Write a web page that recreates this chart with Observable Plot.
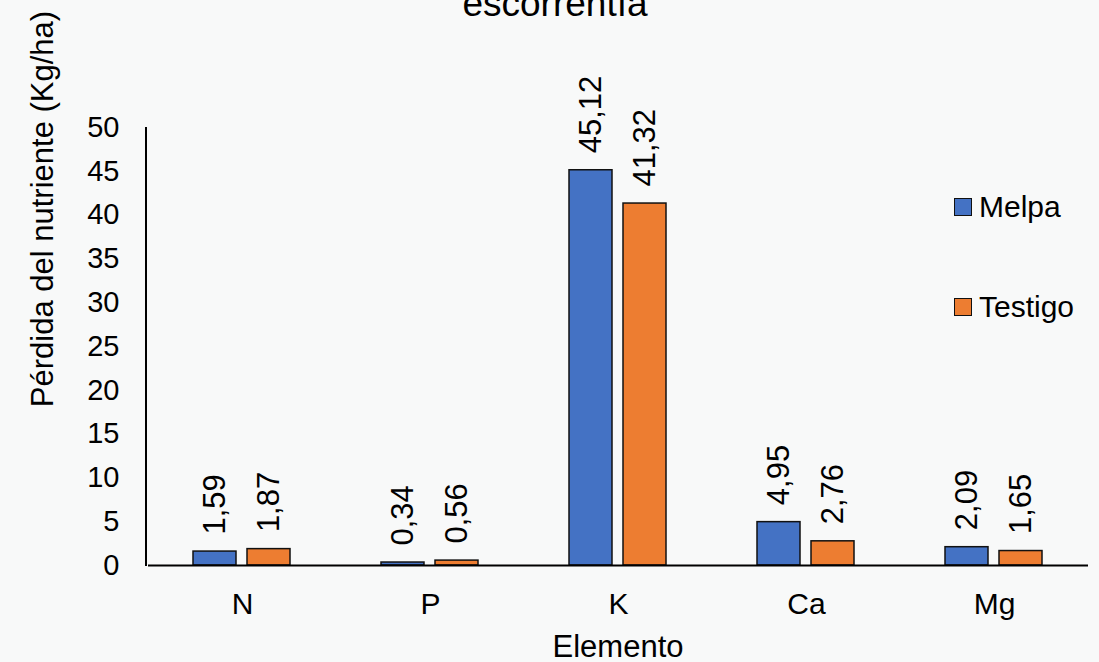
<!DOCTYPE html>
<html>
<head>
<meta charset="utf-8">
<script src="https://cdn.jsdelivr.net/npm/d3@7"></script>
<script src="https://cdn.jsdelivr.net/npm/@observablehq/plot@0.6"></script>
<style>
  html, body { margin: 0; padding: 0; background: #f8f9f9; }
  body { width: 1099px; height: 662px; position: relative; overflow: hidden;
         font-family: "Liberation Sans", Arial, sans-serif; color: #000; }
  .abs { position: absolute; white-space: nowrap; line-height: 1; }
  .sw { position: absolute; width: 18px; height: 18px; box-sizing: border-box; border: 1.5px solid #111; }
</style>
</head>
<body>
<div id="chart"></div>
<div class="abs" id="title" style="left:555px; top:-15px; font-size:37px; transform:translateX(-50%);">escorrentía</div>
<div class="abs" id="xlab" style="left:618px; top:631px; font-size:31px; transform:translateX(-50%);">Elemento</div>
<div class="abs" id="ylab" style="left:42px; top:209px; font-size:31px; transform:translate(-50%,-50%) rotate(-90deg);">Pérdida del nutriente (Kg/ha)</div>
<div id="legend"></div>
<script>
const elementos = ["N", "P", "K", "Ca", "Mg"];
const series = ["Melpa", "Testigo"];
const melpa = [1.59, 0.34, 45.12, 4.95, 2.09];
const testigo = [1.87, 0.56, 41.32, 2.76, 1.65];
const yTicks = [0, 5, 10, 15, 20, 25, 30, 35, 40, 45, 50];
const colores = ["#4472C4", "#ED7D31"];

const data = elementos.flatMap((e, i) => [
  {elemento: e, serie: "Melpa", valor: melpa[i]},
  {elemento: e, serie: "Testigo", valor: testigo[i]}
]);
const fmt = v => d3.format(".2f")(v).replace(".", ",");

const plot = Plot.plot({
  width: 1099,
  height: 662,
  marginTop: 127,
  marginBottom: 97,
  marginLeft: 146,
  marginRight: 9,
  style: {background: "transparent", fontFamily: "'Liberation Sans', Arial, sans-serif", fontSize: "30px", color: "#000"},
  fx: {domain: elementos, padding: 0, label: null},
  x: {domain: series, paddingInner: 0.2, paddingOuter: 0.82, axis: null},
  y: {domain: [0, 50]},
  color: {domain: series, range: colores},
  marks: [
    Plot.axisY({ticks: yTicks, tickSize: 0, tickPadding: 29, label: null, fontSize: 29}),
    Plot.axisFx({anchor: "bottom", tickSize: 0, tickPadding: 27, label: null, fontSize: 30}),
    Plot.barY(data, {fx: "elemento", x: "serie", y: "valor", fill: "serie", stroke: "#111", strokeWidth: 1.5}),
    Plot.ruleY([0], {stroke: "#000", strokeWidth: 2}),
    Plot.text(data, {fx: "elemento", x: "serie", y: "valor", text: d => fmt(d.valor),
      rotate: -90, textAnchor: "start", dy: -17, fontSize: 31, fill: "#000"})
  ]
});
document.getElementById("chart").appendChild(plot);

// left axis line drawn from the plot's own y scale
const ys = plot.scale("y");
d3.select(plot).append("line")
  .attr("x1", 146).attr("x2", 146)
  .attr("y1", ys.apply(0) + 1).attr("y2", ys.apply(50))
  .attr("stroke", "#000").attr("stroke-width", 2);

// legend
const legend = document.getElementById("legend");
const legTops = [198, 298];
series.forEach((s, i) => {
  const sw = document.createElement("div");
  sw.className = "sw";
  sw.style.left = "954px";
  sw.style.top = legTops[i] + "px";
  sw.style.background = colores[i];
  legend.appendChild(sw);
  const t = document.createElement("div");
  t.className = "abs";
  t.style.left = "979px";
  t.style.top = (legTops[i] - 6) + "px";
  t.style.fontSize = "30px";
  t.textContent = s;
  legend.appendChild(t);
});
</script>
</body>
</html>
